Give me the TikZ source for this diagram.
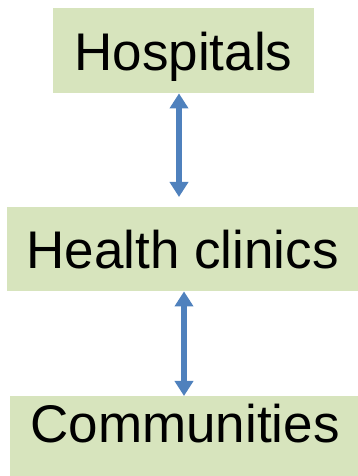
\documentclass[tikz,border=0pt]{standalone}
\usepackage{fontspec}
\setmainfont{Liberation Sans}
\usetikzlibrary{arrows.meta}
\definecolor{boxgreen}{HTML}{D7E4BD}
\definecolor{arrblue}{HTML}{4F81BD}
\begin{document}
\begin{tikzpicture}[x=1pt,y=1pt,
  box/.style={fill=boxgreen, inner xsep=0pt, inner ysep=0pt, anchor=north,
    font=\fontsize{53}{60}\selectfont},
  arr/.style={draw=arrblue, line width=6pt,
    {Triangle[width=18pt,length=15pt]}-{Triangle[width=18pt,length=15pt]}}]
\useasboundingbox (0,0) rectangle (358,476);
\clip (0,0) rectangle (358,476);
\node[box, minimum width=261pt, text height=62pt, text depth=23pt] (hosp) at (183.5,468) {Hospitals};
\node[box, minimum width=351pt, text height=61pt, text depth=23pt] (clin) at (182.5,269) {Health clinics};
\node[box, minimum width=350pt, text height=46pt, text depth=40pt] (comm) at (185,80) {Communities};
\draw[arr, shorten >=10pt] ([xshift=-4.5pt]hosp.south) -- ([xshift=-3.5pt]clin.north);
\draw[arr] ([xshift=1.5pt]clin.south) -- ([xshift=-1pt]comm.north);
\end{tikzpicture}
\end{document}
